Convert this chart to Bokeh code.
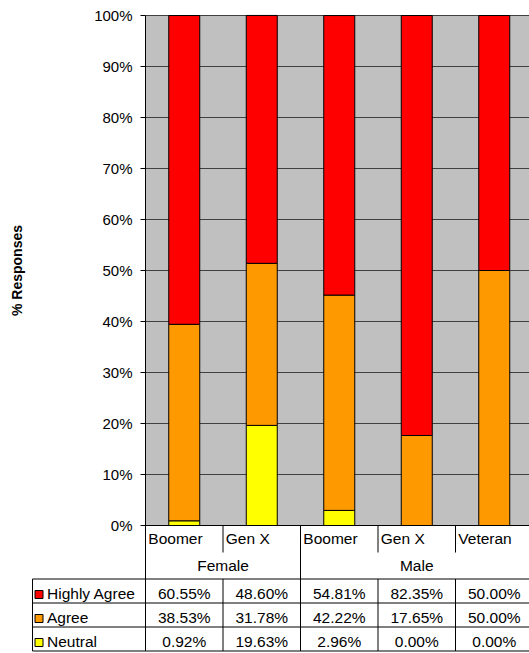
from bokeh.plotting import figure
from bokeh.models import (ColumnDataSource, Range1d, FixedTicker, PrintfTickFormatter)
from bokeh.core.properties import value
from bokeh.embed import file_html
from bokeh.resources import INLINE

# ---- data ----
groups = ["Female", "Female", "Male", "Male", "Male"]
cohorts = ["Boomer", "Gen X", "Boomer", "Gen X", "Veteran"]
series_names = ["Highly Agree", "Agree", "Neutral"]
highly_agree = [60.55, 48.60, 54.81, 82.35, 50.00]
agree = [38.53, 31.78, 42.22, 17.65, 50.00]
neutral = [0.92, 19.63, 2.96, 0.00, 0.00]
y_ticks = list(range(0, 101, 10))

# ---- styling / layout ----
FONT = "Liberation Sans"
LABEL_SIZE = "15.5px"
RED, ORANGE, YELLOW = "#FF0000", "#FF9900", "#FFFF00"
PLOT_BG = "#C0C0C0"
GRID = "#404040"
W, H = 529, 653
LEFT = 145          # pixel column of the value axis
TOP = 15            # pixel row of 100%
AXIS_Y = 525        # pixel row of 0%
CAT_W = 77.5        # pixels per category

n = len(cohorts)
px_per_pct = (AXIS_Y - TOP) / 100.0
x_lo, x_hi = -LEFT / CAT_W, (W - LEFT) / CAT_W
y_lo, y_hi = -(H - AXIS_Y) / px_per_pct, 100 + TOP / px_per_pct
centers = [i + 0.5 for i in range(n)]

source = ColumnDataSource(dict(x=centers, highly_agree=highly_agree,
                               agree=agree, neutral=neutral))

p = figure(width=W, height=H, x_range=Range1d(x_lo, x_hi), y_range=Range1d(y_lo, y_hi),
           output_backend="svg", toolbar_location=None, x_axis_location=None,
           min_border_left=0, min_border_right=0, min_border_top=0, min_border_bottom=0)
p.background_fill_color = "white"
p.border_fill_color = "white"
p.outline_line_color = None
p.xgrid.visible = False
p.ygrid.visible = False
# pixel-row coordinates for the label rows and the data table below the chart
p.extra_y_ranges = {"rows": Range1d(H, 0)}

# plotting area and horizontal gridlines
p.quad(left=0, right=n, bottom=0, top=100, fill_color=PLOT_BG, line_color=None)
p.segment(x0=[0] * len(y_ticks), x1=[n] * len(y_ticks), y0=y_ticks, y1=y_ticks,
          line_color=GRID, line_width=1)

p.vbar_stack(["neutral", "agree", "highly_agree"], x="x", width=0.4,
             fill_color=[YELLOW, ORANGE, RED], line_color="black", line_width=1,
             source=source)

# value axis, pinned to the left edge of the plotting area
ax = p.yaxis[0]
ax.fixed_location = 0
ax.bounds = (0, 100)
ax.ticker = FixedTicker(ticks=y_ticks)
ax.formatter = PrintfTickFormatter(format="%d%%")
ax.major_label_text_font = FONT
ax.major_label_text_font_size = "15px"
ax.major_label_text_color = "black"
ax.major_tick_in = 0
ax.major_tick_out = 5
ax.minor_tick_line_color = None
ax.major_label_standoff = 8
ax.axis_line_color = "black"
ax.major_tick_line_color = "black"
ax.axis_label = "% Responses"
ax.axis_label_text_font = FONT
ax.axis_label_text_font_style = "bold"
ax.axis_label_text_font_size = "14px"
ax.axis_label_text_color = "black"
ax.axis_label_standoff = 66

# ---- category labels and data table ----
cat_line_end = 552
table_top = 578.5
row_h = 24
text_mid = 14.6     # text centre below the top of a table row
table_left = (32 - LEFT) / CAT_W

# category baseline
p.segment(x0=[0], x1=[n], y0=[AXIS_Y], y1=[AXIS_Y], line_color="black",
          line_width=1, y_range_name="rows")

group_edges = [0] + [i for i in range(1, n) if groups[i] != groups[i - 1]] + [n]
inner_edges = [i for i in range(1, n) if i not in group_edges]

p.segment(x0=group_edges, y0=[AXIS_Y] * len(group_edges), x1=group_edges,
          y1=[table_top] * len(group_edges), line_color="black", line_width=1,
          y_range_name="rows")
p.segment(x0=inner_edges, y0=[AXIS_Y] * len(inner_edges), x1=inner_edges,
          y1=[cat_line_end] * len(inner_edges), line_color="black", line_width=1,
          y_range_name="rows")

# cohort labels, left aligned inside each category
p.text(x=[i + 2.8 / CAT_W for i in range(n)], y=[538.3] * n, text=cohorts,
       text_font=value(FONT), text_font_size=LABEL_SIZE, text_color="black",
       text_align="left", text_baseline="middle", y_range_name="rows")

# group labels centred under their categories
g_names = [groups[a] for a in group_edges[:-1]]
g_centers = [(a + b) / 2 for a, b in zip(group_edges[:-1], group_edges[1:])]
p.text(x=g_centers, y=[565] * len(g_names), text=g_names,
       text_font=value(FONT), text_font_size=LABEL_SIZE, text_color="black",
       text_align="center", text_baseline="middle", y_range_name="rows")

# table grid
rows = len(series_names)
h_ys = [table_top + k * row_h for k in range(rows + 1)]
p.segment(x0=[table_left] * len(h_ys), y0=h_ys, x1=[n] * len(h_ys), y1=h_ys,
          line_color="black", line_width=1, y_range_name="rows")
v_xs = [table_left] + list(range(n + 1))
p.segment(x0=v_xs, y0=[table_top] * len(v_xs), x1=v_xs, y1=[h_ys[-1]] * len(v_xs),
          line_color="black", line_width=1, y_range_name="rows")

# legend keys and series names
series_vals = [highly_agree, agree, neutral]
series_cols = [RED, ORANGE, YELLOW]
key_x = (38.5 - LEFT) / CAT_W
p.scatter(x=[key_x] * rows, y=[table_top + k * row_h + 15.5 for k in range(rows)],
          marker="square", size=8, fill_color=series_cols, line_color="black",
          line_width=1, y_range_name="rows")
p.text(x=[(46.5 - LEFT) / CAT_W] * rows,
       y=[table_top + k * row_h + text_mid for k in range(rows)],
       text=series_names, text_font=value(FONT), text_font_size=LABEL_SIZE,
       text_color="black", text_align="left", text_baseline="middle",
       y_range_name="rows")

# cell values
cx, cy, ct = [], [], []
for k, vals in enumerate(series_vals):
    for i, v in enumerate(vals):
        cx.append(i + 0.5)
        cy.append(table_top + k * row_h + text_mid)
        ct.append(f"{v:.2f}%")
p.text(x=cx, y=cy, text=ct, text_font=value(FONT), text_font_size=LABEL_SIZE,
       text_color="black", text_align="center", text_baseline="middle",
       y_range_name="rows")

open("out.html", "w").write(file_html(p, INLINE))
